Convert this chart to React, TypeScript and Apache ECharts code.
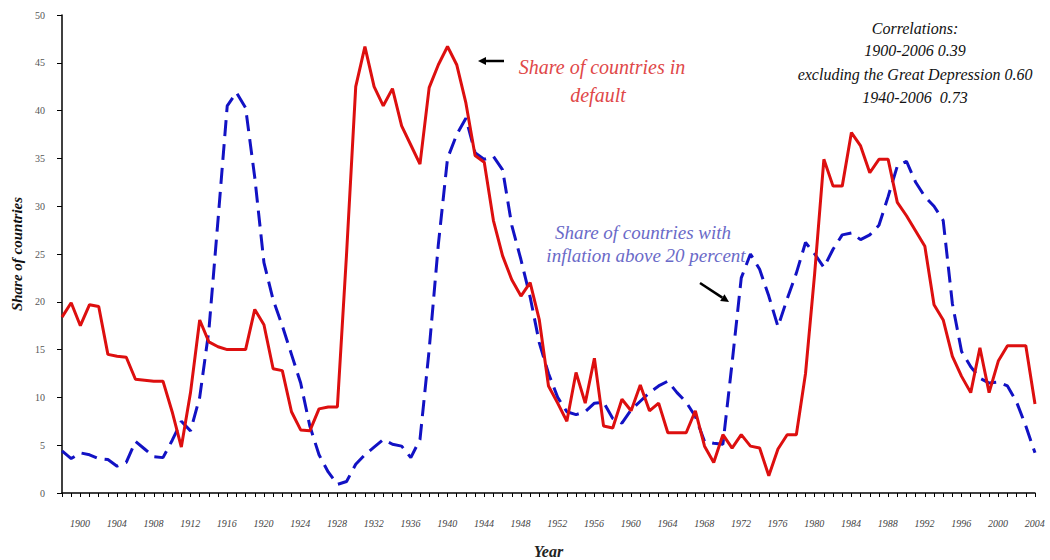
import React, { useEffect, useRef } from "react";
import * as echarts from "echarts";

// Years 1900–2006, one point per year
const years: string[] = Array.from({ length: 107 }, (_, i) => String(1900 + i));

// Share of countries in default (percent)
const defaultShare: number[] = [
  18.4, 19.9, 17.5, 19.7, 19.5, 14.5, 14.3, 14.2, 11.9, 11.8, // 1900s
  11.7, 11.7, 8.5, 4.8, 10.5, 18.1, 15.8, 15.3, 15.0, 15.0, // 1910s
  15.0, 19.2, 17.6, 13.0, 12.8, 8.5, 6.6, 6.5, 8.8, 9.0, // 1920s
  9.0, 25.0, 42.5, 46.7, 42.5, 40.5, 42.3, 38.4, 36.4, 34.4, // 1930s
  42.4, 44.8, 46.7, 44.8, 40.8, 35.3, 34.6, 28.5, 24.8, 22.3, // 1940s
  20.6, 22.0, 18.1, 11.2, 9.4, 7.5, 12.6, 9.4, 14.1, 7.0, // 1950s
  6.8, 9.8, 8.6, 11.3, 8.6, 9.4, 6.3, 6.3, 6.3, 8.6, // 1960s
  4.9, 3.2, 6.1, 4.7, 6.1, 4.9, 4.7, 1.8, 4.6, 6.1, // 1970s
  6.1, 12.5, 23.0, 34.9, 32.1, 32.1, 37.7, 36.3, 33.5, 34.9, // 1980s
  34.9, 30.4, 29.0, 27.4, 25.8, 19.7, 18.1, 14.3, 12.2, 10.5, // 1990s
  15.2, 10.5, 13.8, 15.4, 15.4, 15.4, 9.3, // 2000s
];

// Share of countries with inflation above 20 percent
const inflationShare: number[] = [
  4.4, 3.6, 4.2, 4.0, 3.6, 3.5, 2.8, 3.2, 5.4, 4.6, // 1900s
  3.8, 3.7, 5.5, 7.5, 6.5, 10.0, 17.0, 28.6, 40.5, 41.9, // 1910s
  40.3, 33.0, 24.1, 20.2, 17.5, 14.5, 11.5, 7.0, 4.0, 2.2, // 1920s
  0.9, 1.2, 3.0, 4.0, 4.8, 5.6, 5.1, 4.9, 3.7, 5.6, // 1930s
  15.0, 26.0, 35.0, 37.5, 39.2, 35.6, 34.9, 35.2, 33.8, 28.0, // 1940s
  24.4, 20.5, 15.7, 12.5, 10.0, 8.5, 8.2, 8.5, 9.4, 9.5, // 1950s
  7.8, 7.3, 8.7, 9.6, 10.5, 11.2, 11.7, 10.5, 9.5, 8.0, // 1960s
  5.4, 5.2, 5.1, 13.6, 22.5, 25.0, 23.4, 20.6, 17.4, 20.3, // 1970s
  23.0, 26.2, 25.0, 23.6, 25.5, 27.0, 27.2, 26.5, 27.0, 28.0, // 1980s
  31.0, 34.2, 34.7, 32.5, 31.0, 30.0, 28.5, 19.8, 14.8, 13.2, // 1990s
  12.0, 11.5, 11.6, 11.2, 9.5, 7.0, 4.2, // 2000s
];

const correlationLines: string[] = [
  "Correlations:",
  "1900-2006 0.39",
  "excluding the Great Depression 0.60",
  "1940-2006  0.73",
];

const SERIF = '"Liberation Serif", "DejaVu Serif", serif';

// A straight arrow with a filled triangular head at (x2, y2)
function arrow(x1: number, y1: number, x2: number, y2: number, color: string) {
  const dx = x2 - x1;
  const dy = y2 - y1;
  const len = Math.sqrt(dx * dx + dy * dy);
  const ux = dx / len;
  const uy = dy / len;
  const headLen = 8;
  const headW = 4;
  const bx = x2 - ux * headLen;
  const by = y2 - uy * headLen;
  return {
    type: "group",
    children: [
      {
        type: "line",
        shape: { x1, y1, x2: bx, y2: by },
        style: { stroke: color, lineWidth: 2.5 },
      },
      {
        type: "polygon",
        shape: {
          points: [
            [x2, y2],
            [bx - uy * headW, by + ux * headW],
            [bx + uy * headW, by - ux * headW],
          ],
        },
        style: { fill: color },
      },
    ],
  };
}

function textEl(text: string, x: number, y: number, font: string, fill: string) {
  return {
    type: "text",
    x,
    y,
    style: {
      text,
      font,
      fill,
      align: "center",
      verticalAlign: "middle",
      textAlign: "center",
      textVerticalAlign: "middle",
    },
  };
}

export default function App() {
  const ref = useRef<HTMLDivElement>(null);

  useEffect(() => {
    if (!ref.current) return;
    const chart = echarts.init(ref.current, undefined, { renderer: "svg" });

    const redFont = `italic 20px ${SERIF}`;
    const blueFont = `italic 19px ${SERIF}`;
    const corrFont = `italic 16px ${SERIF}`;

    chart.setOption({
      animation: false,
      backgroundColor: "#ffffff",
      grid: {
        left: 62,
        right: 15,
        top: 15,
        bottom: 67,
        containLabel: false,
        outerBoundsMode: "none",
      },
      xAxis: {
        type: "category",
        data: years,
        boundaryGap: false,
        name: "Year",
        nameLocation: "middle",
        nameGap: 50,
        nameTextStyle: {
          fontFamily: SERIF,
          fontStyle: "italic",
          fontWeight: "bold",
          fontSize: 16,
          color: "#222",
        },
        axisLine: { lineStyle: { color: "#000", width: 1.5 } },
        axisTick: { show: true, interval: 0, length: 4, lineStyle: { color: "#000" } },
        axisLabel: {
          interval: 3,
          align: "left",
          padding: [0, 0, 0, 8],
          margin: 25,
          fontFamily: SERIF,
          fontStyle: "italic",
          fontSize: 10,
          color: "#444",
        },
        splitLine: { show: false },
      },
      yAxis: {
        type: "value",
        min: 0,
        max: 50,
        interval: 5,
        name: "Share of countries",
        nameLocation: "middle",
        nameGap: 38,
        nameTextStyle: {
          fontFamily: SERIF,
          fontWeight: "bold",
          fontStyle: "italic",
          fontSize: 15,
          color: "#111",
        },
        axisLine: { show: true, lineStyle: { color: "#000", width: 1.5 } },
        axisTick: { show: true, length: 5, lineStyle: { color: "#000" } },
        axisLabel: {
          margin: 17,
          fontFamily: SERIF,
          fontSize: 10,
          color: "#555",
        },
        splitLine: { show: false },
      },
      series: [
        {
          name: "Share of countries in default",
          type: "line",
          data: defaultShare,
          showSymbol: false,
          symbol: "none",
          lineStyle: { color: "#dd0f0f", width: 3 },
          z: 3,
        },
        {
          name: "Share of countries with inflation above 20 percent",
          type: "line",
          data: inflationShare,
          showSymbol: false,
          symbol: "none",
          lineStyle: { color: "#1212c4", width: 3, type: [16, 8] },
          z: 2,
        },
      ],
      graphic: [
        textEl("Share of countries in", 602, 67, redFont, "#e04848"),
        textEl("default", 598, 95, redFont, "#e04848"),
        arrow(504, 61, 478, 61, "#000"),
        textEl("Share of countries with", 643, 232, blueFont, "#6a6ac8"),
        textEl("inflation above 20 percent", 646, 255, blueFont, "#6a6ac8"),
        arrow(700, 283, 729, 302, "#000"),
        ...correlationLines.map((t, i) =>
          textEl(t, 915, [28, 50, 74, 97][i], corrFont, "#111")
        ),
      ],
    });

    return () => chart.dispose();
  }, []);

  return (
    <div
      ref={ref}
      style={{
        position: "fixed",
        left: 0,
        top: 0,
        width: 1050,
        height: 560,
        background: "#fff",
      }}
    />
  );
}
